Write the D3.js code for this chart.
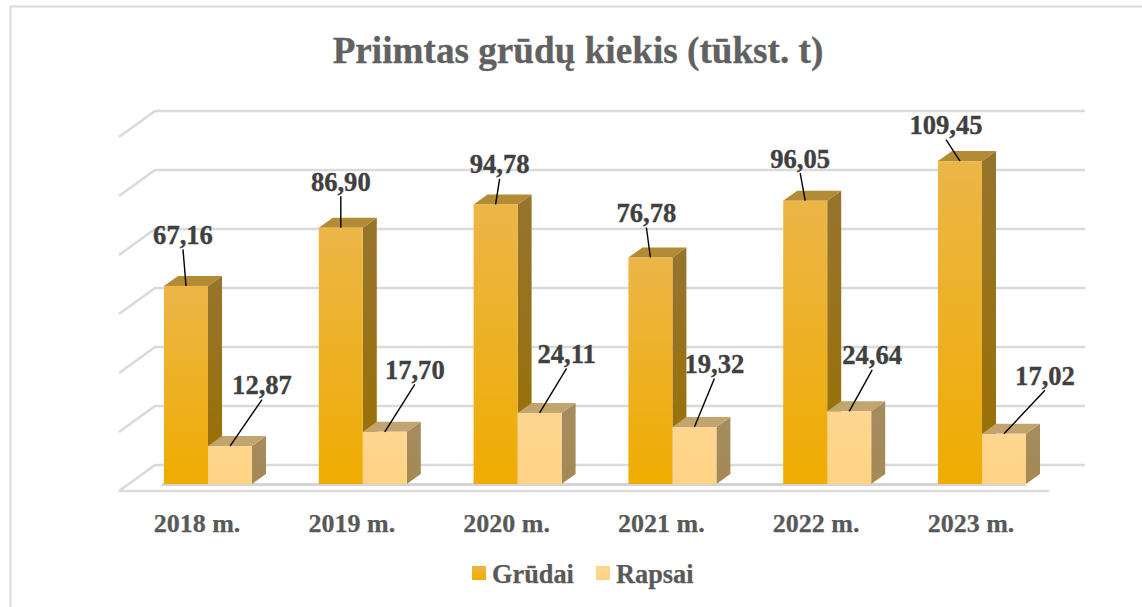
<!DOCTYPE html>
<html><head><meta charset="utf-8">
<script src="https://cdn.jsdelivr.net/npm/d3@7"></script>
<style>html,body{margin:0;padding:0;background:#fff}svg{display:block}text{font-family:"Liberation Serif",serif;font-weight:bold}</style>
</head><body><svg id="c" width="1142" height="607"></svg>
<script>
const categories=["2018 m.","2019 m.","2020 m.","2021 m.","2022 m.","2023 m."];
const grudai=[67.16,86.90,94.78,76.78,96.05,109.45];
const rapsai=[12.87,17.70,24.11,19.32,24.64,17.02];
const gridTicks=[0,20,40,60,80,100,120];
const seriesNames=["Grūdai","Rapsai"];
// manual data-label placement: label centre-x / baseline relative to the top-front-centre of the bar
const grudaiLabelOffset=[[-3,-42],[0,-37],[4,-31],[-4,-35.5],[-5,-33],[-14,-27]];
const rapsaiLabelOffset=[[32,-52],[30,-53],[27,-50],[20,-54],[23,-47],[41,-49]];

const svg=d3.select("#c");
const defs=svg.append("defs");
function grad(id,top,bot){const g=defs.append("linearGradient").attr("id",id).attr("x1",0).attr("y1",0).attr("x2",0).attr("y2",1);
 g.append("stop").attr("offset",0).attr("stop-color",top);g.append("stop").attr("offset",1).attr("stop-color",bot);}
grad("gFront","#ecb648","#efac00");grad("gSide","#96742e","#9a7000");
grad("rFront","#ffd691","#ffd384");grad("rSide","#a58b5f","#a58a55");

// frame
svg.append("path").attr("d","M10.5,607V6.5H1142").attr("fill","none").attr("stroke","#dcdcdc").attr("stroke-width",2);

const x=d3.scaleBand().domain(categories).range([119.6,1048.4]).paddingInner(0).paddingOuter(0);
const y=d3.scaleLinear().domain([0,120]).range([484,130]);
const depthX=36,depthY=26,backLift=19,barDX=14,barDY=10,barShift=11;
const barW=44;
const barStart=c=>x(c)+(x.bandwidth()-2*barW)/2+barShift;
const xLeft=x.range()[0]-0.6,xRight=x.range()[1]+0.6;

// gridlines
const grid=svg.append("g").attr("fill","none").attr("stroke","#dadada").attr("stroke-width",2.7);
gridTicks.forEach(t=>{
  const yb=y(t)-backLift;
  grid.append("path").attr("d",`M${xLeft},${yb+depthY}L${xLeft+depthX},${yb}H${xRight+depthX}`);
});
// floor front
svg.append("line").attr("x1",xLeft).attr("x2",xRight).attr("y1",y(0)-backLift+depthY).attr("y2",y(0)-backLift+depthY).attr("stroke","#dadada").attr("stroke-width",2.7);
// shadow below the bars
svg.append("rect").attr("x",barStart(categories[0])-2).attr("y",y(0)-1).attr("width",barStart(categories[5])+2*barW-barStart(categories[0])+2).attr("height",3).attr("fill","#d4d4d4");

function bars(vals,offset,front,side,topCol){
  const g=svg.append("g");
  categories.forEach((c,i)=>{
    const x0=barStart(c)+offset,yt=y(vals[i]),yb=y(0);
    g.append("path").attr("d",`M${x0+barW},${yt}l${barDX},${-barDY}V${yb-barDY}l${-barDX},${barDY}Z`).attr("fill",`url(#${side})`);
    g.append("path").attr("d",`M${x0},${yt}l${barDX},${-barDY}h${barW}l${-barDX},${barDY}Z`).attr("fill",topCol);
    g.append("rect").attr("x",x0).attr("y",yt).attr("width",barW).attr("height",yb-yt).attr("fill",`url(#${front})`);
  });
}
bars(grudai,0,"gFront","gSide","#b28b34");
bars(rapsai,barW,"rFront","rSide","#c2a46f");

// data labels + leaders
function labels(vals,offs,offset){
  categories.forEach((c,i)=>{
    const px=barStart(c)+offset+barW/2,py=y(vals[i]);
    const lx=px+offs[i][0],base=py+offs[i][1];
    svg.append("line").attr("x1",px).attr("y1",py).attr("x2",lx).attr("y2",base+5.5).attr("stroke","#000").attr("stroke-width",1.4);
    svg.append("text").attr("x",lx).attr("y",base).attr("text-anchor","middle").attr("font-size",26.6)
      .attr("fill","#404040").attr("stroke","#404040").attr("stroke-width",0.35)
      .text(d3.format(".2f")(vals[i]).replace(".",","));
  });
}
labels(grudai,grudaiLabelOffset,0);
labels(rapsai,rapsaiLabelOffset,barW);

// category axis
const axis=d3.axisBottom(x).tickSize(0).tickPadding(0);
const ag=svg.append("g").attr("transform","translate(0,532)").call(axis);
ag.select(".domain").remove();
ag.selectAll("text").attr("dy",0).attr("y",0).attr("font-size",26).attr("font-family","Liberation Serif").attr("fill","#595959").attr("stroke","#595959").attr("stroke-width",0.25);

// title
svg.append("text").attr("x",578).attr("y",63).attr("text-anchor","middle").attr("font-size",37.2).attr("fill","#616161").attr("stroke","#616161").attr("stroke-width",0.3).text("Priimtas grūdų kiekis (tūkst. t)");

// legend
const lg=svg.append("g");
[["gFront",472,492],["rFront",596,616]].forEach((d,i)=>{
  lg.append("rect").attr("x",d[1]).attr("y",566).attr("width",14).attr("height",14).attr("fill",`url(#${d[0]})`);
  lg.append("text").attr("x",d[2]).attr("y",583).attr("font-size",26.3).attr("fill","#595959").attr("stroke","#595959").attr("stroke-width",0.25).text(seriesNames[i]);
});
</script></body></html>
